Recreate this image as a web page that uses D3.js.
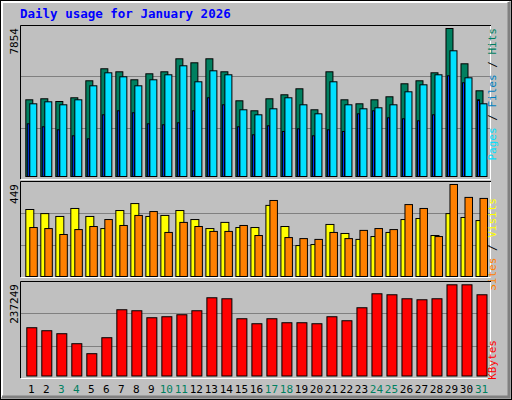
<!DOCTYPE html>
<html>
<head>
<meta charset="utf-8">
<script src="https://cdn.jsdelivr.net/npm/d3@7"></script>
<style>body{margin:0;background:#fff}</style>
</head>
<body>
<svg id="chart" width="512" height="400"></svg>
<script>
const days = d3.range(1, 32);
const weekend = new Set([3, 4, 10, 11, 17, 18, 24, 25, 31]);

const hits = [4070, 4124, 3980, 4177, 5079, 5716, 5556, 5132, 5450, 5556, 6246, 6034, 6246, 5556, 4017, 3487,
  4124, 4336, 4654, 3540, 5556, 4070, 3858, 4070, 4230, 4920, 5079, 5503, 7854, 5981, 4548];
const files = [3858, 3964, 3805, 4070, 4813, 5503, 5291, 4813, 5132, 5397, 5875, 5026, 5609, 5397, 3540, 3274,
  3593, 4177, 3805, 3327, 5026, 3805, 3593, 3646, 3805, 4495, 4866, 5397, 6671, 5238, 3858];
const pages = [2797, 2638, 2478, 2160, 2001, 3274, 3487, 3381, 2797, 2744, 2850, 3487, 4177, 3805, 2638, 2213,
  2691, 2388, 2531, 2160, 2478, 2388, 3327, 3487, 3115, 3062, 2956, 3274, 5344, 4973, 4070];
const visits = [327, 307, 293, 332, 293, 234, 322, 356, 293, 298, 322, 278, 234, 264, 239, 239,
  347, 244, 151, 156, 254, 210, 181, 195, 215, 278, 283, 200, 307, 288, 273];
const sites = [239, 234, 205, 229, 244, 278, 249, 298, 317, 215, 264, 244, 220, 220, 249, 200,
  371, 190, 185, 181, 215, 185, 225, 234, 229, 351, 332, 195, 449, 386, 381];
const kbytes = [125570, 117776, 109982, 84002, 58022, 99590, 172334, 169736, 151550, 154148, 159344, 169736,
  203510, 200912, 148952, 135962, 148952, 138560, 138560, 135962, 154148, 143756, 177530, 213902, 211304,
  200912, 198314, 200912, 237249, 237249, 211304];

const svg = d3.select("#chart");
const font = "DejaVu Sans Mono, monospace";

// outer 3d frame
svg.append("rect").attr("x", 0.5).attr("y", 0.5).attr("width", 511).attr("height", 399)
  .attr("fill", "#c0c0c0").attr("stroke", "#000");
svg.append("path").attr("d", "M2,397V2H509").attr("fill", "none").attr("stroke", "#fff").attr("stroke-width", 2);
svg.append("path").attr("d", "M2,397H509V2").attr("fill", "none").attr("stroke", "#808080").attr("stroke-width", 3);

svg.append("text").attr("x", 20).attr("y", 18).attr("fill", "#0000ff")
  .attr("font-family", font).attr("font-weight", "bold").attr("font-size", 12.5)
  .text("Daily usage for January 2026");

const x = d3.scaleLinear().domain([1, 31]).range([25.3, 475.5]);

function panel(top, bottom) {
  svg.append("rect").attr("x", 20).attr("y", top).attr("width", 471).attr("height", bottom - top).attr("fill", "#c0c0c0");
  for (const f of [1 / 3, 2 / 3]) {
    const gy = Math.round(top + (bottom - top) * f) + 0.5;
    svg.append("line").attr("x1", 21).attr("x2", 490).attr("y1", gy).attr("y2", gy).attr("stroke", "#808080");
  }
  svg.append("path").attr("d", `M20.5,${bottom}V${top + 0.5}H491`).attr("fill", "none").attr("stroke", "#000");
  svg.append("path").attr("d", `M21,${bottom + 0.5}H490.5V${top + 1}`).attr("fill", "none").attr("stroke", "#fff");
}

function bars(data, y, dx, w, color) {
  svg.append("g").selectAll("rect").data(data).join("rect")
    .attr("x", (d, i) => x(days[i]) + dx + 0.5)
    .attr("y", (d) => y(d) + 0.5)
    .attr("width", w)
    .attr("height", (d) => y(0) - y(d))
    .attr("fill", color).attr("stroke", "#000").attr("stroke-width", 1);
}

function leftLabel(txt, yTop) {
  svg.append("text").attr("transform", `translate(18,${yTop}) rotate(-90)`)
    .attr("text-anchor", "end").attr("font-family", font).attr("font-size", 11).attr("fill", "#000").text(txt);
}

function rightLabel(parts, yTop) {
  const t = svg.append("text").attr("transform", `translate(496,${yTop}) rotate(90)`)
    .attr("font-family", font).attr("font-size", 11);
  for (const [s, c] of parts) t.append("tspan").attr("fill", c).text(s);
  const len = t.node().getComputedTextLength();
  t.attr("transform", `translate(496,${yTop + len}) rotate(-90)`);
}

// hits / files / pages
panel(25, 179);
const y1 = d3.scaleLinear().domain([0, 7854]).range([176, 28]);
bars(hits, y1, 0, 7, "#008060");
bars(files, y1, 4, 7, "#00e0ff");
bars(pages, y1, 1.5, 2, "#0040ff");
leftLabel("7854", 28);
rightLabel([["Pages", "#00e0ff"], [" / ", "#000"], ["Files", "#0080c0"], [" / ", "#000"], ["Hits", "#008060"]], 28);

// visits / sites
panel(181, 277);
const y2 = d3.scaleLinear().domain([0, 449]).range([276, 184]);
bars(visits, y2, 0, 8, "#ffff00");
bars(sites, y2, 4, 7.5, "#ff8000");
leftLabel("449", 184);
rightLabel([["Sites", "#ff8000"], [" / ", "#000"], ["Visits", "#ffff00"]], 198);

// kbytes
panel(281, 378);
const y3 = d3.scaleLinear().domain([0, 237249]).range([375.5, 284.3]);
bars(kbytes, y3, 1, 10, "#ff0000");
leftLabel("237249", 284);
rightLabel([["KBytes", "#ff0000"]], 340);

svg.append("g").selectAll("text").data(days).join("text")
  .attr("x", (d) => x(d) + 6)
  .attr("y", 393)
  .attr("text-anchor", "middle")
  .attr("font-family", font).attr("font-size", 11)
  .attr("fill", (d) => (weekend.has(d) ? "#008060" : "#000"))
  .text((d) => d);
</script>
</body>
</html>
